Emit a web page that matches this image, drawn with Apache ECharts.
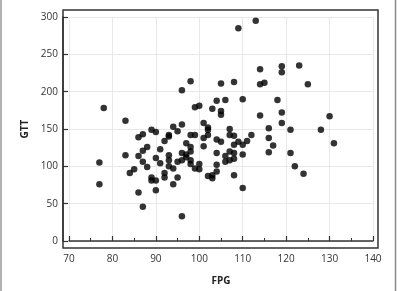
<!DOCTYPE html>
<html>
<head>
<meta charset="utf-8">
<script src="https://cdn.jsdelivr.net/npm/echarts@6/dist/echarts.min.js"></script>
<style>
html,body{margin:0;padding:0;background:#fff;}
#c{width:397px;height:291px;}
</style>
</head>
<body>
<div id="c"></div>
<script>
const xTicks = [70, 80, 90, 100, 110, 120, 130, 140];
const yTicks = [0, 50, 100, 150, 200, 250, 300];
const xName = 'FPG';
const yName = 'GTT';
const fpg = [77, 77, 78, 83, 83, 84, 85, 86, 87, 86, 87, 88, 88, 87, 86, 87, 89, 90, 90, 91,
  91, 89, 89, 90, 90, 92, 93, 93, 94, 95, 96, 93, 93, 93, 94, 92, 92, 94, 95, 96,
  95, 96, 97, 98, 98, 99, 100, 100, 96, 97, 97, 98, 98, 98, 99, 96, 98, 99, 100, 101,
  102, 102, 101, 102, 101, 102, 103, 103, 104, 104, 103, 104, 106, 105, 105, 105, 104, 105, 104, 106,
  107, 108, 110, 106, 107, 108, 107, 107, 108, 108, 109, 110, 111, 112, 108, 110, 108, 110, 109, 113,
  114, 114, 115, 114, 116, 116, 117, 116, 118, 119, 119, 119, 119, 121, 121, 122, 124, 123, 125, 128,
  130, 131];
const gtt = [105, 76, 178, 161, 115, 91, 96, 139, 143, 114, 106, 99, 126, 121, 65, 46, 149, 146, 111, 123,
  104, 85, 81, 81, 68, 134, 142, 140, 153, 147, 156, 115, 108, 100, 97, 91, 85, 76, 85, 33,
  106, 108, 112, 103, 108, 97, 103, 96, 118, 116, 131, 126, 120, 142, 142, 202, 214, 179, 181, 158,
  152, 149, 138, 142, 127, 87, 84, 88, 93, 102, 177, 188, 189, 174, 169, 211, 136, 133, 118, 114,
  120, 118, 116, 106, 108, 110, 150, 142, 141, 129, 133, 129, 134, 142, 88, 71, 213, 190, 285, 295,
  230, 210, 212, 168, 151, 138, 128, 119, 189, 234, 226, 172, 158, 149, 118, 100, 90, 235, 210, 149,
  167, 131];

const pts = fpg.map((x, i) => [x, gtt[i]]);
const chart = echarts.init(document.getElementById('c'), null, {renderer: 'canvas'});
const FONT = "'Open Sans', 'Noto Sans', sans-serif";
chart.setOption({
  animation: false,
  backgroundColor: '#fff',
  grid: {left: 69, right: 24, top: 17, bottom: 49},
  xAxis: {
    type: 'value', min: xTicks[0], max: xTicks[xTicks.length - 1], interval: 10,
    offset: 6,
    name: xName, nameLocation: 'middle', nameGap: 29,
    nameTextStyle: {fontFamily: FONT, fontSize: 10, fontWeight: 'bold', color: '#222'},
    axisLine: {show: true, lineStyle: {color: '#333', width: 1.5}},
    axisTick: {show: true, inside: true, length: 5, lineStyle: {color: '#333', width: 1.2}},
    minorTick: {show: true, splitNumber: 2, length: 3, lineStyle: {color: '#333', width: 1}},
    axisLabel: {fontFamily: FONT, fontSize: 10, color: '#333', margin: 7},
    splitLine: {show: true, lineStyle: {color: '#e8e8e8', width: 1}}
  },
  yAxis: {
    type: 'value', min: yTicks[0], max: yTicks[yTicks.length - 1], interval: 50,
    offset: 6,
    name: yName, nameLocation: 'middle', nameGap: 24, nameRotate: 90,
    nameTextStyle: {fontFamily: FONT, fontSize: 10, fontWeight: 'bold', color: '#222'},
    axisLine: {show: true, lineStyle: {color: '#333', width: 1.5}},
    axisTick: {show: true, inside: true, length: 5, lineStyle: {color: '#333', width: 1.2}},
    axisLabel: {fontFamily: FONT, fontSize: 10, color: '#333', margin: 5},
    splitLine: {show: true, lineStyle: {color: '#e8e8e8', width: 1}}
  },
  graphic: [
    {type: 'rect', shape: {x: 63, y: 10, width: 315, height: 238}, z: 100,
     style: {fill: 'none', stroke: '#333', lineWidth: 1.5}},
    {type: 'line', shape: {x1: 1, y1: 0, x2: 1, y2: 291}, style: {stroke: '#999', lineWidth: 1.5}},
    {type: 'line', shape: {x1: 395.5, y1: 0, x2: 395.5, y2: 291}, style: {stroke: '#888', lineWidth: 1.5}}
  ],
  series: [{
    type: 'scatter', data: pts, symbol: 'circle', symbolSize: 6.5,
    itemStyle: {color: '#000'}
  }]
});
</script>
</body>
</html>
